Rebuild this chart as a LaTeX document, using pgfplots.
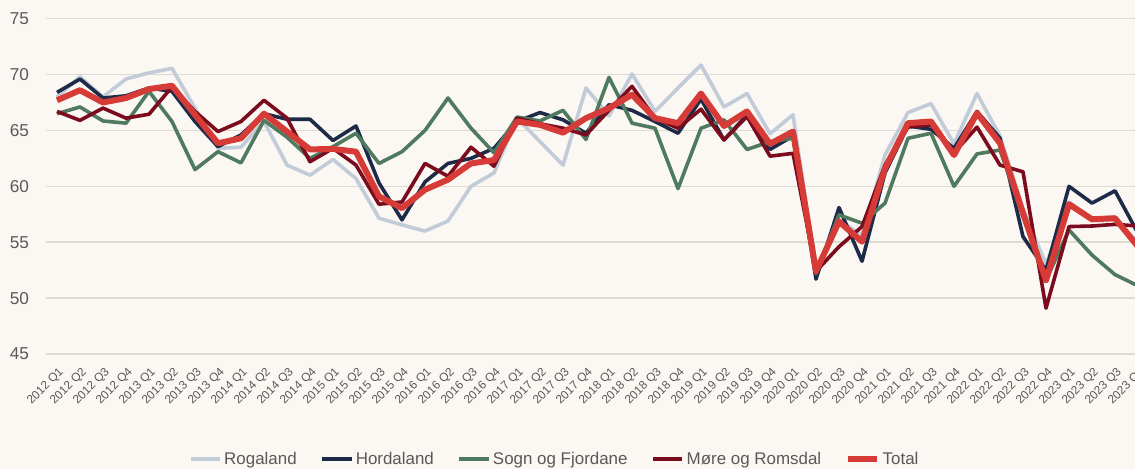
\documentclass[border=0pt]{standalone}
\usepackage{fontspec}
\setmainfont{Liberation Sans}
\usepackage{pgfplots}
\pgfplotsset{compat=1.18}
\usepackage{pgfplotstable}
\definecolor{bg}{HTML}{FBF8F3}
\definecolor{gridc}{HTML}{DEDAD4}
\definecolor{lab}{HTML}{595959}
\definecolor{cRog}{HTML}{C2CCD8}
\definecolor{cHor}{HTML}{1E2B48}
\definecolor{cSog}{HTML}{4F7A5F}
\definecolor{cMor}{HTML}{7B0C1E}
\definecolor{cTot}{HTML}{D63B37}

\pgfplotstableread{
i R H S M T
0 68.0 68.4 66.5 66.7 67.7
1 69.8 69.6 67.1 65.9 68.6
2 68.0 67.9 65.85 67.0 67.5
3 69.6 68.1 65.65 66.1 67.9
4 70.15 68.8 68.5 66.45 68.7
5 70.55 68.5 65.8 68.9 69.0
6 67.0 65.8 61.5 66.7 66.4
7 63.4 63.55 63.1 64.9 63.85
8 63.5 64.6 62.1 65.8 64.3
9 65.8 66.5 65.9 67.7 66.5
10 61.9 66.0 64.4 66.1 64.9
11 61.0 66.0 62.5 62.2 63.3
12 62.4 64.1 63.55 63.4 63.35
13 60.7 65.4 64.75 61.9 63.1
14 57.15 60.3 62.05 58.4 59.1
15 56.55 57.0 63.1 58.6 58.05
16 56.0 60.4 65.0 62.05 59.7
17 56.9 62.05 67.9 60.9 60.6
18 60.0 62.5 65.2 63.5 62.05
19 61.2 63.4 63.0 61.8 62.35
20 66.1 65.8 66.2 66.1 65.8
21 64.0 66.6 65.85 65.6 65.5
22 61.9 65.95 66.8 65.2 64.8
23 68.8 64.75 64.2 64.6 66.1
24 66.3 67.3 69.75 66.8 67.0
25 70.05 66.8 65.65 68.95 68.2
26 66.7 65.8 65.2 66.1 66.1
27 68.8 64.75 59.8 65.2 65.65
28 70.85 67.8 65.2 66.9 68.3
29 67.1 64.15 65.95 64.15 65.4
30 68.3 66.4 63.3 66.25 66.7
31 64.7 63.3 64.0 62.7 63.8
32 66.4 64.5 64.3 62.95 64.9
33 52.5 51.7 52.2 52.4 52.4
34 57.0 58.1 57.45 54.6 56.85
35 55.6 53.3 56.7 56.4 55.05
36 62.8 61.2 58.5 61.9 61.6
37 66.6 65.4 64.3 65.3 65.65
38 67.4 65.1 64.75 65.5 65.8
39 63.8 63.4 60.0 63.0 62.8
40 68.3 66.7 62.9 65.3 66.55
41 64.5 64.3 63.25 61.9 63.85
42 58.0 55.5 57.3 61.3 57.6
43 53.0 52.5 51.6 49.1 51.6
44 58.6 60.0 56.1 56.4 58.4
45 57.0 58.5 53.85 56.45 57.05
46 57.0 59.6 52.1 56.6 57.15
47 55.0 55.8 51.1 56.45 54.6
}\datatable

\begin{document}
\begin{tikzpicture}
\path[fill=bg,use as bounding box] (0pt,0pt) rectangle (851.25pt,351.75pt);
\begin{axis}[
  at={(34.5pt,86.25pt)}, anchor=south west,
  width=819pt, height=251.5pt, scale only axis,
  xmin=-0.478, xmax=47, ymin=45, ymax=75,
  axis line style={draw=none},
  ytick={45,50,...,75},
  ymajorgrids, grid style={line width=1.1pt, color=gridc},
  major tick length=0pt,
  xtick={0,...,47},
  xticklabels={2012 Q1,2012 Q2,2012 Q3,2012 Q4,2013 Q1,2013 Q2,2013 Q3,2013 Q4,2014 Q1,2014 Q2,2014 Q3,2014 Q4,2015 Q1,2015 Q2,2015 Q3,2015 Q4,2016 Q1,2016 Q2,2016 Q3,2016 Q4,2017 Q1,2017 Q2,2017 Q3,2017 Q4,2018 Q1,2018 Q2,2018 Q3,2018 Q4,2019 Q1,2019 Q2,2019 Q3,2019 Q4,2020 Q1,2020 Q2,2020 Q3,2020 Q4,2021 Q1,2021 Q2,2021 Q3,2021 Q4,2022 Q1,2022 Q2,2022 Q3,2022 Q4,2023 Q1,2023 Q2,2023 Q3,2023 Q4},
  xticklabel style={rotate=45, anchor=north east, inner sep=0pt, xshift=-6pt, yshift=-7pt, font=\fontsize{8.9}{9}\selectfont, text=lab},
  yticklabel style={anchor=east, inner sep=0pt, xshift=-12.5pt, font=\fontsize{12.9}{14}\selectfont, text=lab},
  /pgf/number format/assume math mode=true,
  every axis plot/.append style={line join=round, no markers},
  legend image code/.code={\draw[#1] (0pt,0pt) -- (22pt,0pt);},
  legend style={at={(0.466,-0.313)}, anchor=center, draw=none, fill=none,
    legend columns=-1,
    /tikz/every even column/.append style={column sep=16pt},
    nodes={inner sep=1.8pt, font=\fontsize{12.7}{14}\selectfont, text=lab}},
]
\addplot[color=cRog, line width=2.7pt] table[x=i,y=R]{\datatable};
\addlegendentry{Rogaland}
\addplot[color=cHor, line width=2.7pt] table[x=i,y=H]{\datatable};
\addlegendentry{Hordaland}
\addplot[color=cSog, line width=2.7pt] table[x=i,y=S]{\datatable};
\addlegendentry{Sogn og Fjordane}
\addplot[color=cMor, line width=2.7pt] table[x=i,y=M]{\datatable};
\addlegendentry{Møre og Romsdal}
\addplot[color=cTot, line width=4.5pt] table[x=i,y=T]{\datatable};
\addlegendentry{Total}
\end{axis}
\end{tikzpicture}
\end{document}
